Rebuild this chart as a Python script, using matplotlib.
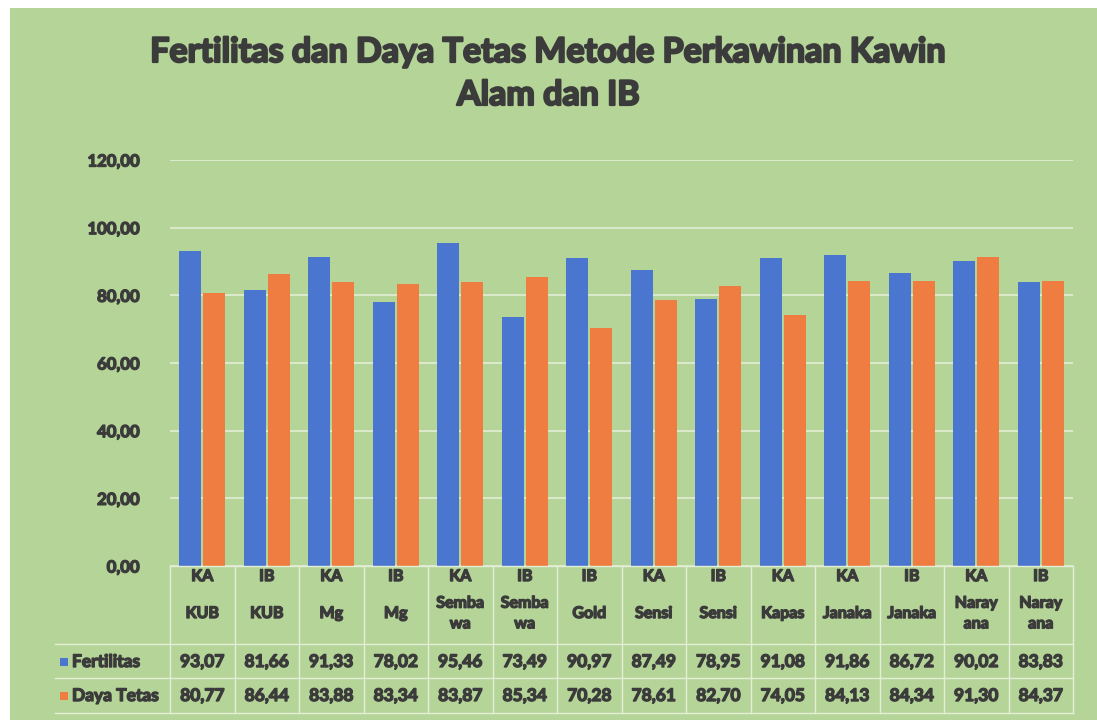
import numpy as np
import matplotlib.pyplot as plt
import matplotlib.transforms as mtransforms
import matplotlib.patheffects as pe
from matplotlib.patches import Rectangle

metode = ['KA', 'IB', 'KA', 'IB', 'KA', 'IB', 'IB', 'KA', 'IB', 'KA', 'KA', 'IB', 'KA', 'IB']
jenis = ['KUB', 'KUB', 'Mg', 'Mg', 'Semba\nwa', 'Semba\nwa', 'Gold', 'Sensi', 'Sensi',
         'Kapas', 'Janaka', 'Janaka', 'Naray\nana', 'Naray\nana']
fertilitas = [93.07, 81.66, 91.33, 78.02, 95.46, 73.49, 90.97, 87.49, 78.95, 91.08, 91.86, 86.72, 90.02, 83.83]
daya_tetas = [80.77, 86.44, 83.88, 83.34, 83.87, 85.34, 70.28, 78.61, 82.70, 74.05, 84.13, 84.34, 91.30, 84.37]
y_ticks = [0, 20, 40, 60, 80, 100, 120]

W, H = 1097, 720
bg = '#b5d598'
txt = '#3b3b3b'
grid_c = '#e3eed6'
blue = '#4a76d0'
orange = '#ef7d42'
wt = 'bold'
thick = [pe.withStroke(linewidth=1.0, foreground=txt)]
thick_t = [pe.withStroke(linewidth=1.6, foreground=txt)]

plt.rcParams['font.family'] = ['Lato', 'DejaVu Sans']

fig = plt.figure(figsize=(W / 100, H / 100), dpi=100, facecolor='white')

def fy(py):
    return 1 - py / H

# green chart area
fig.patches.append(Rectangle((10 / W, 0), 1, fy(8), transform=fig.transFigure,
                             facecolor=bg, edgecolor='none', zorder=-5))

ax = fig.add_axes([170 / W, fy(566), (1073 - 170) / W, (566 - 160) / H])
ax.set_facecolor('none')

x = np.arange(len(fertilitas))
w = 0.34
ax.bar(x - 0.185, fertilitas, w, color=blue, zorder=3)
ax.bar(x + 0.185, daya_tetas, w, color=orange, zorder=3)

ax.set_xlim(-0.5, len(x) - 0.5)
ax.set_ylim(0, 120)
ax.set_yticks(y_ticks)
ax.set_yticklabels([f'{v:.2f}'.replace('.', ',') for v in y_ticks],
                   fontsize=12, fontweight=wt, color=txt)
for t in ax.get_yticklabels():
    t.set_path_effects(thick)
ax.tick_params(axis='y', length=0, pad=22)
ax.set_xticks([])
ax.yaxis.grid(True, color=grid_c, lw=1.2, zorder=0)
for s in ax.spines.values():
    s.set_visible(False)

fig.text(0.5, fy(52), 'Fertilitas dan Daya Tetas Metode Perkawinan Kawin',
         ha='center', va='center', fontsize=24.5, fontweight=wt, color=txt,
         path_effects=thick_t)
fig.text(0.5, fy(95), 'Alam dan IB',
         ha='center', va='center', fontsize=24.5, fontweight=wt, color=txt,
         path_effects=thick_t)

# data table under the axis
tr = mtransforms.blended_transform_factory(ax.transData, fig.transFigure)
for i in range(len(x) + 1):
    fig.lines.append(plt.Line2D([i - 0.5, i - 0.5], [fy(566), fy(713)], transform=tr,
                                color=grid_c, lw=1))
for py, x0 in [(566, 170), (644, 55), (678, 55), (713, 55)]:
    fig.lines.append(plt.Line2D([x0 / W, 1073 / W], [fy(py), fy(py)],
                                transform=fig.transFigure, color=grid_c, lw=1))

for i in x:
    fig.text(i, fy(577), metode[i], transform=tr, ha='center', va='center',
             fontsize=11.5, fontweight=wt, color=txt, path_effects=thick)
    fig.text(i, fy(614), jenis[i], transform=tr, ha='center', va='center',
             fontsize=11.5, fontweight=wt, color=txt, linespacing=1.6, path_effects=thick)
    fig.text(i, fy(662), f'{fertilitas[i]:.2f}'.replace('.', ','), transform=tr,
             ha='center', va='center', fontsize=12.5, fontweight=wt, color=txt,
             path_effects=thick)
    fig.text(i, fy(696), f'{daya_tetas[i]:.2f}'.replace('.', ','), transform=tr,
             ha='center', va='center', fontsize=12.5, fontweight=wt, color=txt,
             path_effects=thick)

for py, c, lab in [(662, blue, 'Fertilitas'), (696, orange, 'Daya Tetas')]:
    fig.patches.append(Rectangle((60 / W, fy(py + 4)), 8 / W, 8 / H,
                                 transform=fig.transFigure, facecolor=c, edgecolor='none'))
    fig.text(72 / W, fy(py), lab, ha='left', va='center',
             fontsize=12.5, fontweight=wt, color=txt, path_effects=thick)

fig.savefig('out.png', dpi=100, facecolor=fig.get_facecolor())
